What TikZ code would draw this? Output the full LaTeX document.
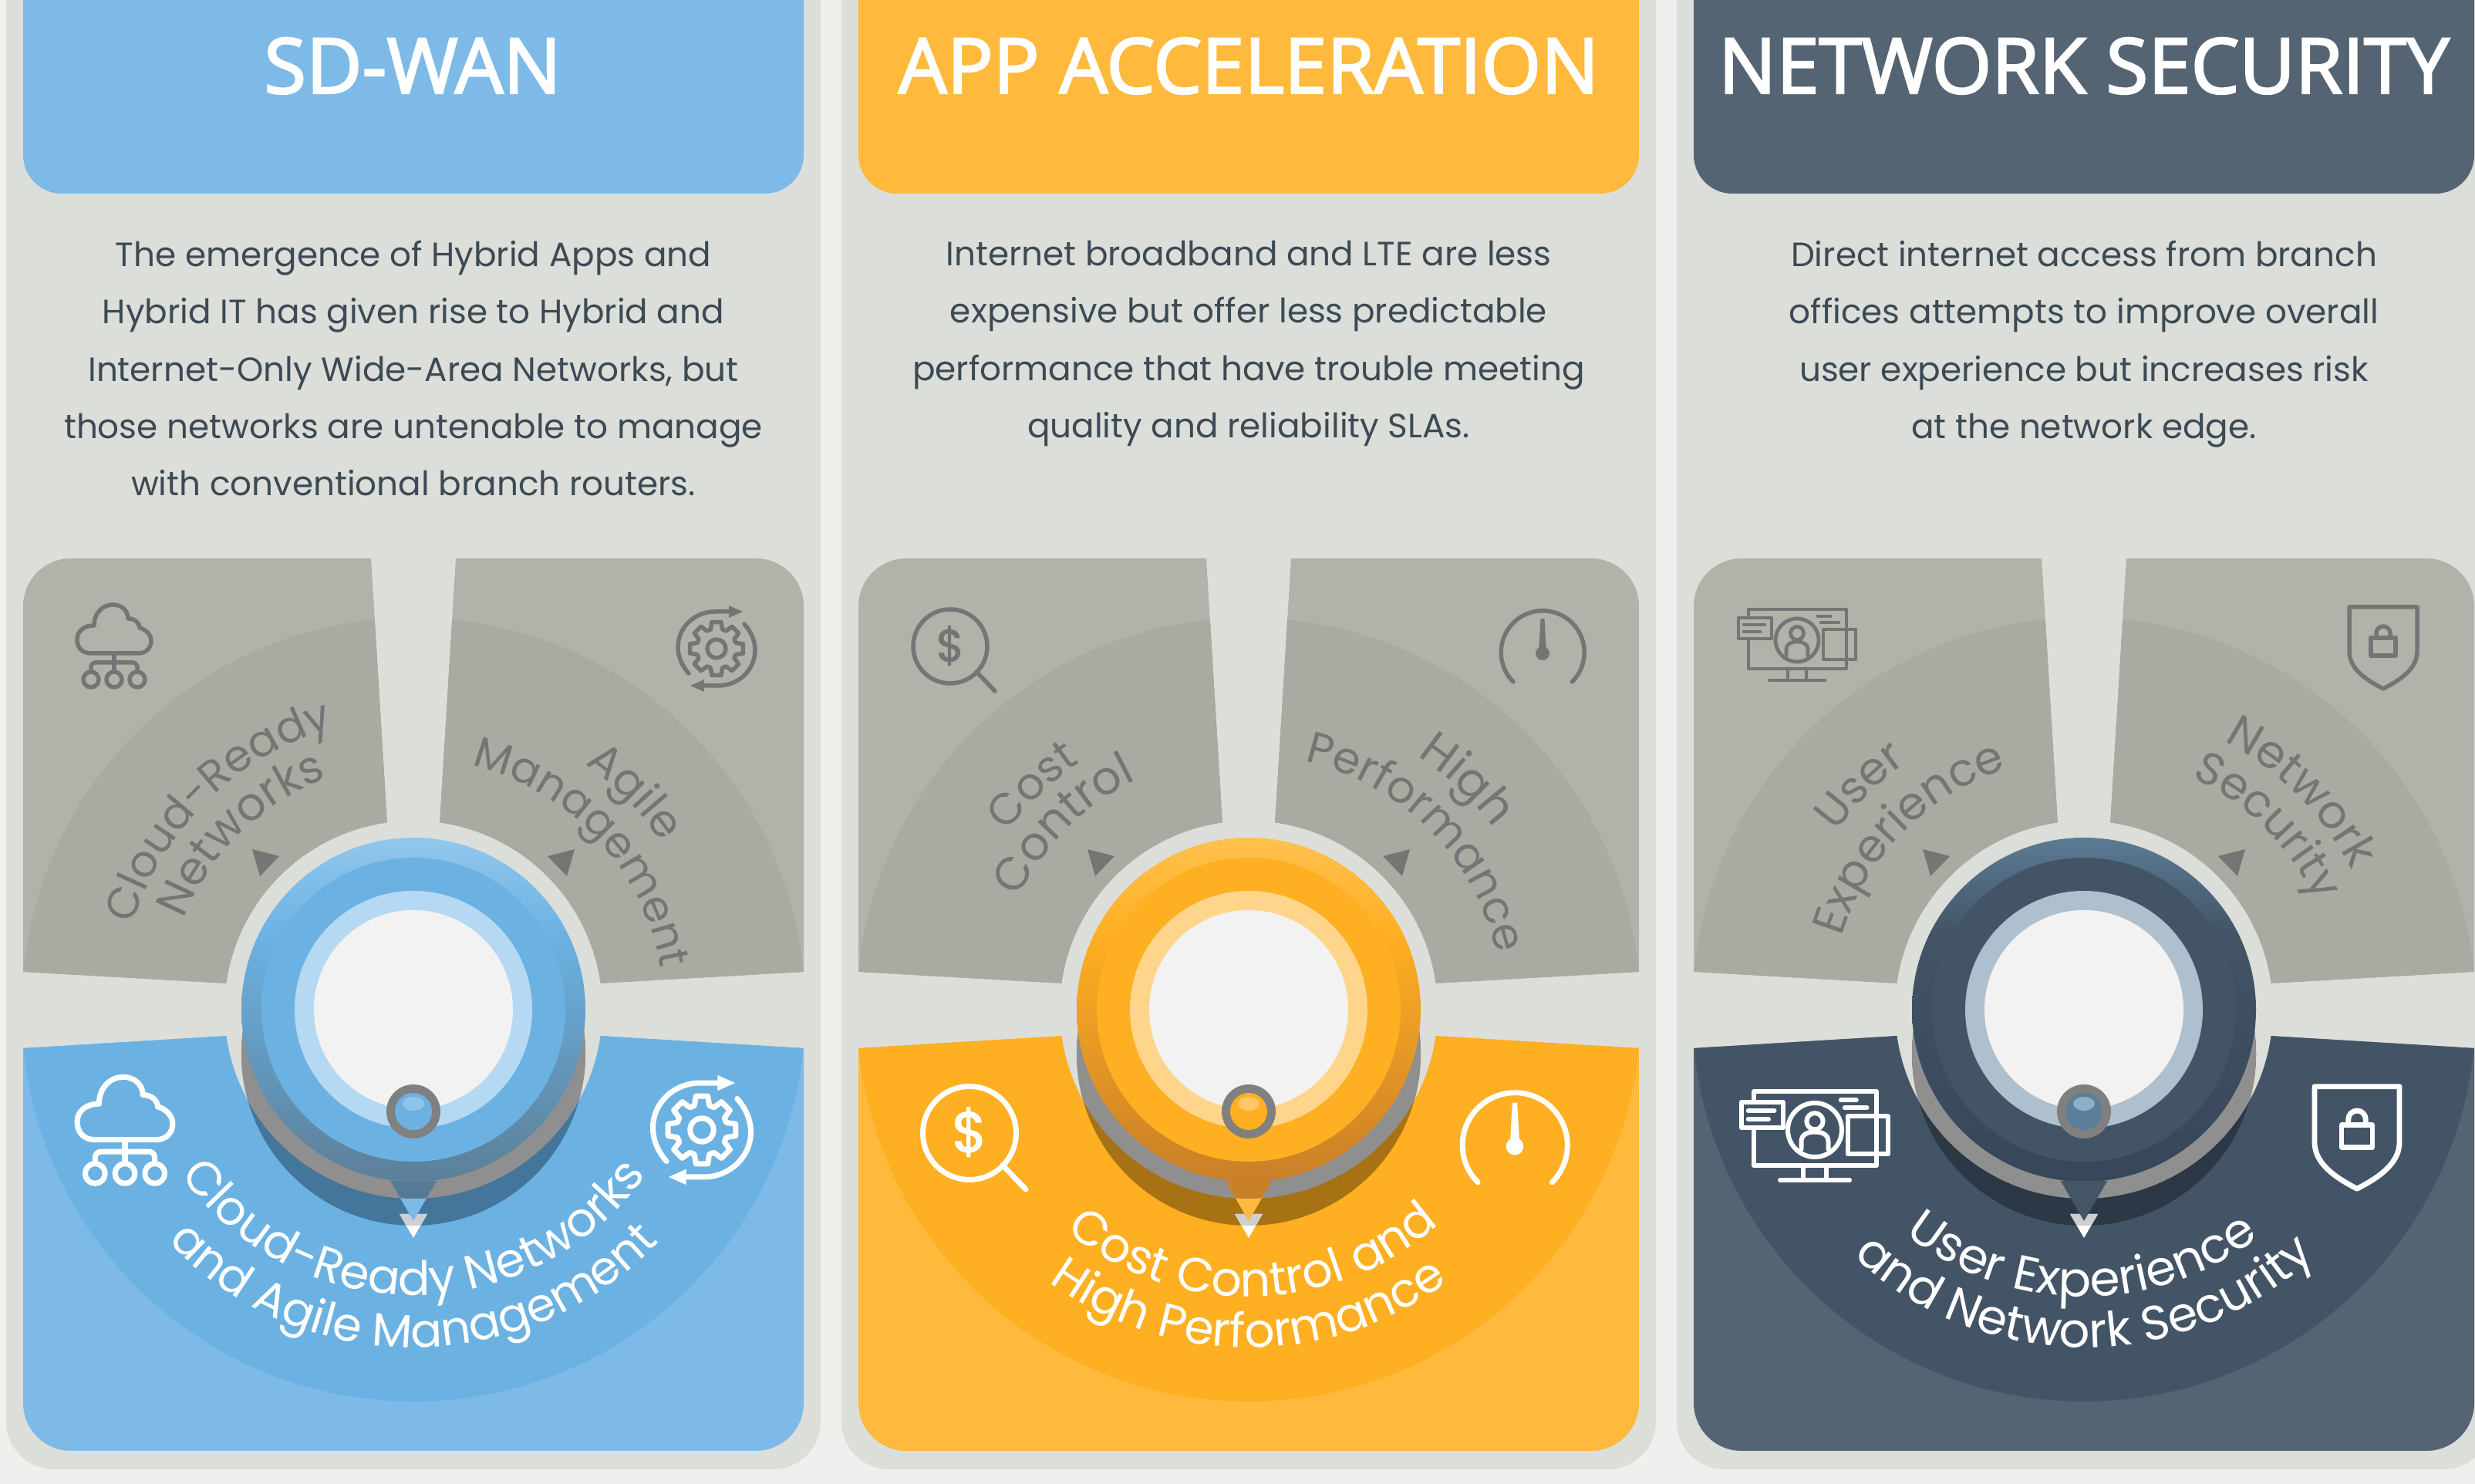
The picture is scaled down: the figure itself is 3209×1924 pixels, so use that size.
\documentclass[tikz,border=0pt]{standalone}
\usepackage{fontspec}
\usetikzlibrary{decorations.text}
\newfontfamily\bodyf{Poppins}
\newfontfamily\dollarf[FakeBold=2]{Poppins}
\newfontfamily\headf[FakeBold=2.5]{Open Sans}
\definecolor{pagebg}{HTML}{EFEFED}
\definecolor{panelbg}{HTML}{DCDED9}
\definecolor{wedgelt}{HTML}{B0B3A9}
\definecolor{wedgedk}{HTML}{A7ABA1}
\definecolor{graytxt}{HTML}{757575}
\definecolor{bodytxt}{HTML}{3C4A55}
\definecolor{shadowgray}{HTML}{8F8F8F}
\definecolor{knobgray}{HTML}{808080}
\definecolor{pale}{HTML}{F2F2F2}
% column colours
\definecolor{Ahead}{HTML}{7DBAE8}\definecolor{Adark}{HTML}{6BB2E3}\definecolor{Aring}{HTML}{B5D9F2}
\definecolor{Atop}{HTML}{93C7EC}\definecolor{Abot}{HTML}{5C7F98}\definecolor{Ashad}{HTML}{44759A}
\definecolor{Ahi}{HTML}{8FC4EA}\definecolor{Atria}{HTML}{567A96}\definecolor{Atrib}{HTML}{7DBAE8}
\definecolor{Bhead}{HTML}{FFB93C}\definecolor{Bdark}{HTML}{FFAF22}\definecolor{Bring}{HTML}{FFD58C}
\definecolor{Btop}{HTML}{FFC14F}\definecolor{Bbot}{HTML}{C97F27}\definecolor{Bshad}{HTML}{A67214}
\definecolor{Bhi}{HTML}{FFC766}\definecolor{Btria}{HTML}{C97F27}\definecolor{Btrib}{HTML}{FFB93C}
\definecolor{Chead}{HTML}{556473}\definecolor{Cdark}{HTML}{435466}\definecolor{Cring}{HTML}{AEC0CE}
\definecolor{Ctop}{HTML}{5B7B94}\definecolor{Cbot}{HTML}{374659}\definecolor{Cshad}{HTML}{2D3846}
\definecolor{Chi}{HTML}{8FAFC5}\definecolor{Ctria}{HTML}{445566}\definecolor{Ctrib}{HTML}{445566}
\definecolor{Cknob}{HTML}{5C7E98}\definecolor{Aknob}{HTML}{6BB2E3}\definecolor{Bknob}{HTML}{FFAF22}
\pgfdeclareverticalshading{btnA}{100bp}{color(0bp)=(Abot);color(25bp)=(Abot);color(61bp)=(Adark);color(75bp)=(Atop);color(100bp)=(Atop)}
\pgfdeclareverticalshading{btnB}{100bp}{color(0bp)=(Bbot);color(25bp)=(Bbot);color(61bp)=(Bdark);color(75bp)=(Btop);color(100bp)=(Btop)}
\pgfdeclareverticalshading{btnC}{100bp}{color(0bp)=(Cbot);color(25bp)=(Cbot);color(61bp)=(Cdark);color(75bp)=(Ctop);color(100bp)=(Ctop)}
\tikzset{
  title/.style={anchor=base,text=white,inner sep=0pt,font=\headf\fontsize{99.5}{104}\selectfont},
  para/.style={anchor=north,align=center,text=bodytxt,inner sep=0pt,font=\bodyf\fontsize{43.7}{74.3}\selectfont},
  iconline/.style={line cap=round,line join=round,fill=none},
}
% [#1 font size], #2 text, #3 radius, #4 start, #5 end (the text is centred between them), #6 colour
\newcommand{\arctext}[6][57]{%
 \pgfmathsetmacro\midang{(#4+#5)/2}\pgfmathsetmacro\dirang{(#5>#4)?1:-1}%
 \pgfmathsetmacro\saang{\midang-\dirang*85}\pgfmathsetmacro\eaang{\midang+\dirang*85}%
 \path[decorate,decoration={text along path,text align=center,text={|\bodyf\fontsize{#1}{64}\selectfont\color{#6}|#2}}] (\saang:#3) arc[start angle=\saang,end angle=\eaang,radius=#3];}
\newcommand{\wedgepath}{(-55,585) -- (98:245) arc[start angle=98,end angle=172,radius=245] -- (-506,49) -- (-506,523) arc[start angle=180,end angle=90,radius=62] -- cycle}
\newcommand{\bottompath}{(-506,-50) -- (188:245) arc[start angle=188,end angle=352,radius=245] -- (506,-50) -- (506,-510) arc[start angle=0,end angle=-90,radius=62] -- (-444,-572) arc[start angle=-90,end angle=-180,radius=62] -- cycle}
% icons: #1 x, #2 y, #3 scale, #4 colour
\newcommand{\cloudicon}[4]{\begin{scope}[shift={(#1,#2)},scale=#3,iconline,draw=#4,line width=5.5pt*#3]
 \draw (-30,-9) .. controls (-42,-9) and (-48,-1) .. (-48,9) .. controls (-48,19) and (-40,27) .. (-26,27) .. controls (-26,44) and (-14,54) .. (-2,54) .. controls (10,54) and (18,46) .. (18,36) .. controls (27,36) and (33,30) .. (33,24) .. controls (42,22) and (48,14) .. (48,7) .. controls (48,-3) and (40,-9) .. (32,-9) -- cycle;
 \draw (0,-9) -- (0,-33);
 \draw (-30,-33) -- (-30,-27) arc[start angle=180,end angle=90,radius=6] -- (24,-21) arc[start angle=90,end angle=0,radius=6] -- (30,-33);
 \draw (-30,-43) circle (10) (0,-43) circle (10) (30,-43) circle (10);
\end{scope}}
\newcommand{\gearicon}[4]{\begin{scope}[shift={(#1,#2)},scale=#3,iconline,draw=#4,line width=5.5pt*#3]
 \draw (-10:35) \foreach \a in {0,45,...,315}{ -- (\a-10:35) -- (\a+10:35) -- (\a+17:26) -- (\a+28:26)} -- cycle;
 \draw (0,0) circle (12);
 \draw (-36,-32) .. controls (-45,-22) and (-50,-10) .. (-50,2) .. controls (-50,28) and (-28,48) .. (-2,48) -- (18,48);
 \draw (36,32) .. controls (45,22) and (50,10) .. (50,-2) .. controls (50,-28) and (28,-48) .. (2,-48) -- (-18,-48);
 \fill[#4] (16,56) -- (34,48) -- (16,40) -- cycle (-16,-56) -- (-34,-48) -- (-16,-40) -- cycle;
\end{scope}}
\newcommand{\dollaricon}[5]{\begin{scope}[shift={(#1,#2)},scale=#3,iconline,draw=#4,line width=5.5pt*#3]
 \draw (0,0) circle (48);
 \draw (34,-33) -- (58,-58);
 \node[text=#4,inner sep=0pt,scale=#3,font=\dollarf\fontsize{58}{60}\selectfont] (#5) at (0,1) {\$};
\end{scope}}
\newcommand{\gaugeicon}[4]{\begin{scope}[shift={(#1,#2)},scale=#3,iconline,draw=#4,line width=5.5pt*#3]
 \draw (-38,-38) arc[start angle=225,end angle=-45,radius=54];
 \fill[#4] (-2.5,44) -- (2.5,44) -- (5,0) -- (-5,0) -- cycle;
 \fill[#4] (0,-1) circle (9);
\end{scope}}
\newcommand{\shieldicon}[4]{\begin{scope}[shift={(#1,#2)},scale=#3,iconline,draw=#4,line width=5.5pt*#3]
 \draw (-44,53) -- (44,53) -- (44,-5) .. controls (44,-30) and (15,-45) .. (0,-53) .. controls (-15,-45) and (-44,-30) .. (-44,-5) -- cycle;
 \draw (-16,-10) rectangle (16,13);
 \draw (-9,13) -- (-9,19) arc[start angle=180,end angle=0,radius=9] -- (9,13);
\end{scope}}
\newcommand{\monitoricon}[4]{\begin{scope}[shift={(#1,#2)},scale=#3,iconline,draw=#4,line width=4.8pt*#3]
 \draw (-63,37) -- (-63,48) -- (64,48) -- (64,-29) -- (-63,-29) -- (-63,10);
 \draw (-76,37) rectangle (-33,10);
 \draw (-69,28) -- (-42,28) (-69,19) -- (-48,19);
 \draw (34,22) rectangle (76,-17);
 \draw (27,39) -- (43,39) (31,31) -- (54,31);
 \draw (0,8) circle (28);
 \draw (0,17) circle (8.5);
 \draw (-14,-12) -- (-14,-4) .. controls (-14,3) and (-8,6) .. (0,6) .. controls (8,6) and (14,3) .. (14,-4) -- (14,-12);
 \draw (-12,-29) -- (-12,-44) (12,-29) -- (12,-44);
 \draw (-36,-44) -- (36,-44);
\end{scope}}
% common column: #1 letter A/B/C
\newcommand{\columnbase}[1]{%
 \fill[panelbg,rounded corners=62pt] (-528,-596) rectangle (528,1400);
 \fill[#1head,rounded corners=50pt] (-506,1058) rectangle (506,1500);
 \foreach \sx in {1,-1}{\begin{scope}[xscale=\sx]
   \fill[wedgelt] \wedgepath;
   \begin{scope}\clip \wedgepath; \fill[wedgedk] (0,0) circle (508);\end{scope}
   \fill[graytxt] (-209,208) -- (-174,199) -- (-199,173) -- cycle;
 \end{scope}}
 \fill[#1head] \bottompath;
 \begin{scope}\clip \bottompath;
   \fill[#1dark] (0,0) circle (508);
 \end{scope}
 % the disc's cast shadow: dark on the wedge, grey on the panel
 \begin{scope}\clip (0,-57) circle (223);
   \fill[#1shad] (-300,-400) rectangle (300,100);
   \fill[shadowgray] (0,0) circle (245);
 \end{scope}
 \shade[shading=btn#1] (0,0) circle (223);
 \fill[white] (-18,-265) -- (18,-265) -- (0,-296) -- cycle;
 \begin{scope}\clip (0,-57) circle (223);
   \fill[white!62!gray] (-18,-265) -- (18,-265) -- (0,-296) -- cycle;
 \end{scope}
 \fill[#1trib] (-30,-222) -- (30,-222) -- (0,-274) -- cycle;
 \begin{scope}\clip (0,0) circle (245);
   \fill[#1tria] (-30,-222) -- (30,-222) -- (0,-274) -- cycle;
 \end{scope}
 \fill[#1dark] (0,0) circle (197);
 \fill[#1ring] (0,0) circle (154);
 \fill[pale] (0,0) circle (129);
 \fill[knobgray] (0,-132) circle (35);
 \fill[#1knob] (0,-132) circle (24);
 \fill[#1hi] (0,-122) ellipse [x radius=14,y radius=9];
}
\begin{document}
\begin{tikzpicture}[x=1pt,y=1pt]
\useasboundingbox (0,0) rectangle (3209,1924);
\clip (0,0) rectangle (3209,1924);
\fill[pagebg] (0,0) rectangle (3209,1924);
% ---- SD-WAN
\begin{scope}[shift={(536,615)}]
 \columnbase{A}
 \node[title] (t1) at (-1,1188) {SD-WAN};
 \node[para] (p1) at (0,997) {The emergence of Hybrid Apps and\\Hybrid IT has given rise to Hybrid and\\Internet-Only Wide-Area Networks, but\\those networks are untenable to manage\\with conventional branch routers.};
 \arctext{Cloud-Ready}{380}{162}{107}{graytxt}
 \arctext[59]{Networks}{320}{157}{112}{graytxt}
 \arctext[58]{Agile}{388}{56}{33}{graytxt}
 \arctext[56]{Management}{325}{76}{10}{graytxt}
 \arctext[61.5]{Cloud-Ready Networks}{370}{215}{325}{white}
 \arctext[60.5]{and Agile Management}{438}{224}{316}{white}
 \cloudicon{-388}{471}{1}{graytxt}
 \cloudicon{-374}{-157}{1.29}{white}
 \gearicon{393}{468}{1}{graytxt}
 \gearicon{374}{-156}{1.27}{white}
\end{scope}
% ---- APP ACCELERATION
\begin{scope}[shift={(1619,615)}]
 \columnbase{B}
 \node[title] (t2) at (0,1188) {APP ACCELERATION};
 \node[para] (p2) at (0,997) {Internet broadband and LTE are less\\expensive but offer less predictable\\performance that have trouble meeting\\quality and reliability SLAs.};
 \arctext{Cost}{388}{146}{122}{graytxt}
 \arctext[60]{Control}{332}{155}{115}{graytxt}
 \arctext[61]{High}{395}{58}{35}{graytxt}
 \arctext[57.5]{Performance}{330}{78}{12}{graytxt}
 \arctext[62]{Cost Control and}{372}{229}{313}{white}
 \arctext[61.5]{High Performance}{438}{233}{307}{white}
 \dollaricon{-387}{471}{1}{graytxt}{d1}
 \dollaricon{-362}{-160}{1.26}{white}{d2}
 \gaugeicon{381}{463}{1}{graytxt}
 \gaugeicon{345}{-176}{1.26}{white}
\end{scope}
% ---- NETWORK SECURITY
\begin{scope}[shift={(2702,615)}]
 \columnbase{C}
 \node[title] (t3) at (0,1188) {NETWORK SECURITY};
 \node[para] (p3) at (0,997) {Direct internet access from branch\\offices attempts to improve overall\\user experience but increases risk\\at the network edge.};
 \arctext[59]{User}{395}{146}{124}{graytxt}
 \arctext[59]{Experience}{328}{163}{108}{graytxt}
 \arctext[59.5]{Network}{392}{63}{27}{graytxt}
 \arctext[58.5]{Security}{332}{65}{25}{graytxt}
 \arctext[63]{User Experience}{372}{231}{308}{white}
 \arctext[62.5]{and Network Security}{438}{226}{314}{white}
 \monitoricon{-372}{471}{1}{graytxt}
 \monitoricon{-349}{-166}{1.25}{white}
 \shieldicon{388}{469}{1}{graytxt}
 \shieldicon{354}{-166}{1.25}{white}
\end{scope}
\end{tikzpicture}
\end{document}
